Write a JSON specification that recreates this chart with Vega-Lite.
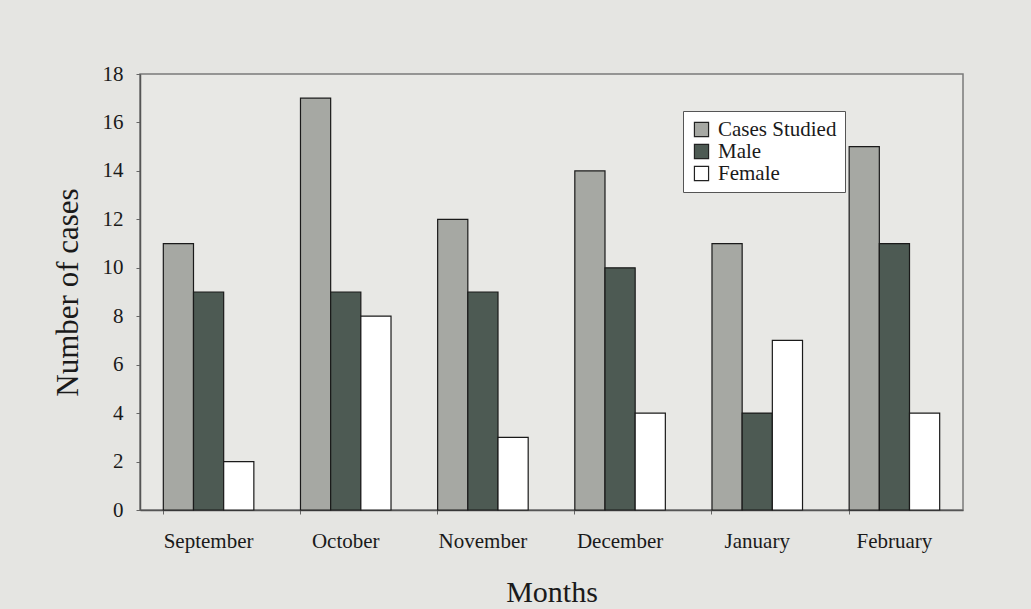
{
  "$schema": "https://vega.github.io/schema/vega-lite/v6.json",
  "autosize": {"type": "none"},
  "width": 823,
  "height": 436,
  "padding": {"left": 140, "top": 74, "right": 68, "bottom": 99},
  "background": "#e5e5e2",
  "config": {
    "font": "Liberation Serif",
    "legend": {"labelFont": "Liberation Serif"},
    "view": {"stroke": "#7a7a7a", "strokeWidth": 1.5, "fill": "#e8e8e5"}
  },
  "data": {
    "values": [
      {"month": "September", "series": "Cases Studied", "cases": 11},
      {"month": "September", "series": "Male", "cases": 9},
      {"month": "September", "series": "Female", "cases": 2},
      {"month": "October", "series": "Cases Studied", "cases": 17},
      {"month": "October", "series": "Male", "cases": 9},
      {"month": "October", "series": "Female", "cases": 8},
      {"month": "November", "series": "Cases Studied", "cases": 12},
      {"month": "November", "series": "Male", "cases": 9},
      {"month": "November", "series": "Female", "cases": 3},
      {"month": "December", "series": "Cases Studied", "cases": 14},
      {"month": "December", "series": "Male", "cases": 10},
      {"month": "December", "series": "Female", "cases": 4},
      {"month": "January", "series": "Cases Studied", "cases": 11},
      {"month": "January", "series": "Male", "cases": 4},
      {"month": "January", "series": "Female", "cases": 7},
      {"month": "February", "series": "Cases Studied", "cases": 15},
      {"month": "February", "series": "Male", "cases": 11},
      {"month": "February", "series": "Female", "cases": 4}
    ]
  },
  "mark": {"type": "bar", "stroke": "#1a1a1a", "strokeWidth": 1.2},
  "encoding": {
    "x": {
      "field": "month",
      "type": "nominal",
      "sort": ["September", "October", "November", "December", "January", "February"],
      "scale": {"paddingInner": 0.34, "paddingOuter": 0.17},
      "axis": {
        "title": "Months",
        "titleFont": "Liberation Serif",
        "titleFontSize": 30,
        "titleFontWeight": "normal",
        "titleColor": "#1a1a1a",
        "titlePadding": 26,
        "labelFont": "Liberation Serif",
        "labelAngle": 0,
        "labelFontSize": 21,
        "labelColor": "#1a1a1a",
        "labelPadding": 16,
        "bandPosition": 0,
        "tickSize": 4,
        "tickColor": "#666",
        "domainColor": "#555",
        "domainWidth": 1.5
      }
    },
    "xOffset": {
      "field": "series",
      "type": "nominal",
      "sort": ["Cases Studied", "Male", "Female"],
      "scale": {"paddingInner": 0, "paddingOuter": 0}
    },
    "y": {
      "field": "cases",
      "type": "quantitative",
      "scale": {"domain": [0, 18], "nice": false},
      "axis": {
        "title": "Number of cases",
        "titleFont": "Liberation Serif",
        "titleFontSize": 31,
        "titleFontWeight": "normal",
        "titleColor": "#1a1a1a",
        "titlePadding": 18,
        "values": [0, 2, 4, 6, 8, 10, 12, 14, 16, 18],
        "grid": false,
        "labelFont": "Liberation Serif",
        "labelFontSize": 21,
        "labelColor": "#1a1a1a",
        "labelPadding": 13,
        "tickSize": 4,
        "tickColor": "#666",
        "domainColor": "#555",
        "domainWidth": 1.5
      }
    },
    "color": {
      "field": "series",
      "type": "nominal",
      "sort": ["Cases Studied", "Male", "Female"],
      "scale": {
        "domain": ["Cases Studied", "Male", "Female"],
        "range": ["#a6a8a3", "#4d5a53", "#ffffff"]
      },
      "legend": {
        "title": null,
        "orient": "none",
        "legendX": 543,
        "legendY": 37,
        "fillColor": "#ffffff",
        "strokeColor": "#555",
        "padding": 8,
        "symbolType": "square",
        "symbolSize": 200,
        "symbolStrokeColor": "#222",
        "symbolStrokeWidth": 1.2,
        "labelFont": "Liberation Serif",
        "labelFontSize": 21,
        "labelColor": "#1a1a1a",
        "labelOffset": 6,
        "rowPadding": 0,
        "labelLimit": 300,
        "encode": {
          "labels": {"update": {"font": {"value": "Liberation Serif"}}}
        }
      }
    }
  }
}
